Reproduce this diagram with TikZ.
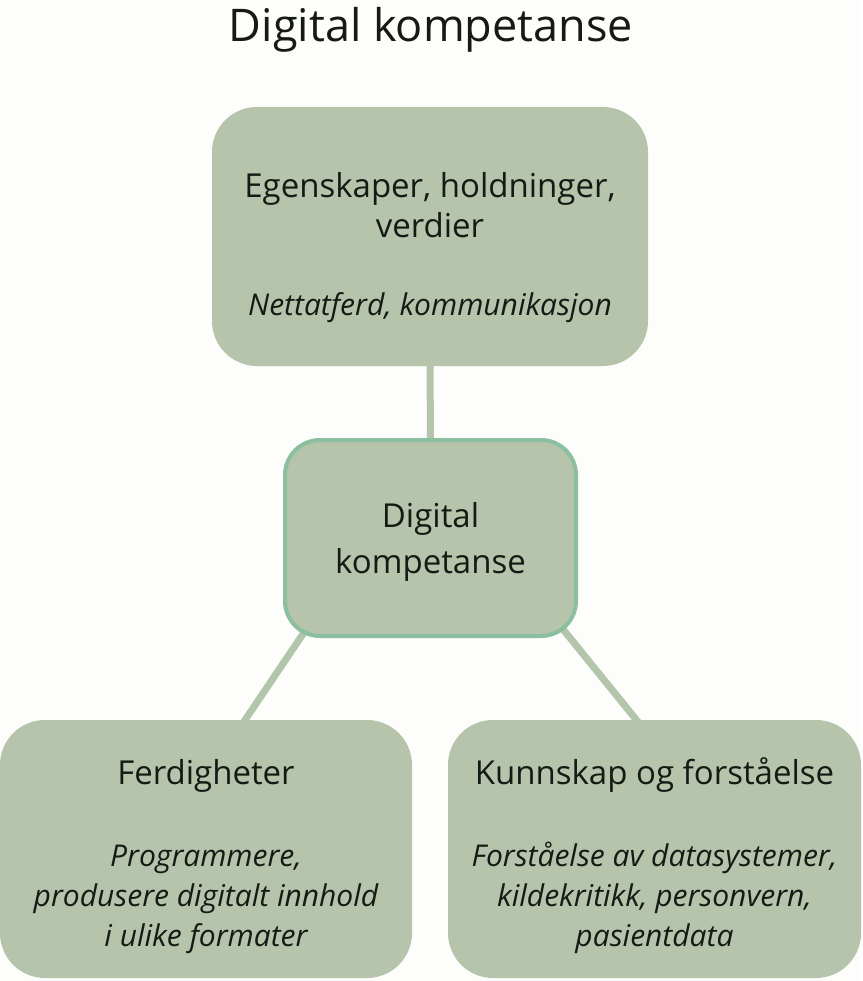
\documentclass[tikz,border=0pt]{standalone}
\usepackage{fontspec}
\setmainfont{Open Sans}
\usetikzlibrary{positioning, calc}
\definecolor{boxgreen}{HTML}{B5C4AB}
\definecolor{rimgreen}{HTML}{8CBF9F}
\definecolor{linkgreen}{HTML}{B3C5AA}
\definecolor{inkdark}{HTML}{161A14}
\definecolor{paper}{HTML}{FDFDFB}
\newcommand{\subtxt}{\itshape\fontsize{30}{38}\selectfont}
\pgfdeclarelayer{background}
\pgfsetlayers{background,main}
\tikzset{
  box/.style={fill=boxgreen, rounded corners=45pt, inner sep=0pt, align=center,
    text=inkdark, font=\fontsize{33}{40}\selectfont},
  link/.style={draw=linkgreen, line width=7pt}
}

\begin{document}
\begin{tikzpicture}[x=1pt, y=-1pt]
        \useasboundingbox (0,0) rectangle (862,981);
        \node[text=inkdark, font=\fontsize{45}{50}\selectfont] (title) at (431,30) {Digital kompetanse};
        \node[box, minimum width=436pt, minimum height=259pt] (top) at (430,236.5)
            {\rule{0pt}{48pt}Egenskaper, holdninger,\\verdier\\[38pt]\subtxt Nettatferd, kommunikasjon};
        \node[box, draw=rimgreen, line width=4pt, rounded corners=35pt, minimum width=291pt, minimum height=196pt] (mid) at (430.5,538)
            {\rule{0pt}{33pt}Digital\\[6pt]kompetanse};
        \node[box, minimum width=412pt, minimum height=258pt] (left) at (206,849)
            {\rule{0pt}{40pt}Ferdigheter\\[42pt]\subtxt Programmere,\\\subtxt produsere digitalt innhold\\\subtxt i ulike formater};
        \node[box, minimum width=413pt, minimum height=258pt] (right) at (654.5,849)
            {\rule{0pt}{40pt}Kunnskap og forståelse\\[42pt]\subtxt Forståelse av datasystemer,\\\subtxt kildekritikk, personvern,\\\subtxt pasientdata};
        % connectors behind the boxes
        \begin{pgfonlayer}{background}
            \fill[paper] (0,0) rectangle (862,981);
            \draw[link] (top.south) -- (mid.north);
            \draw[link] ($(mid.south west)+(24,-10)$) -- ($(left.north west)+(240,8)$);
            \draw[link] ($(mid.south east)+(-16,-10)$) -- ($(right.north west)+(195,8)$);
        \end{pgfonlayer}
    \end{tikzpicture}
\end{document}
